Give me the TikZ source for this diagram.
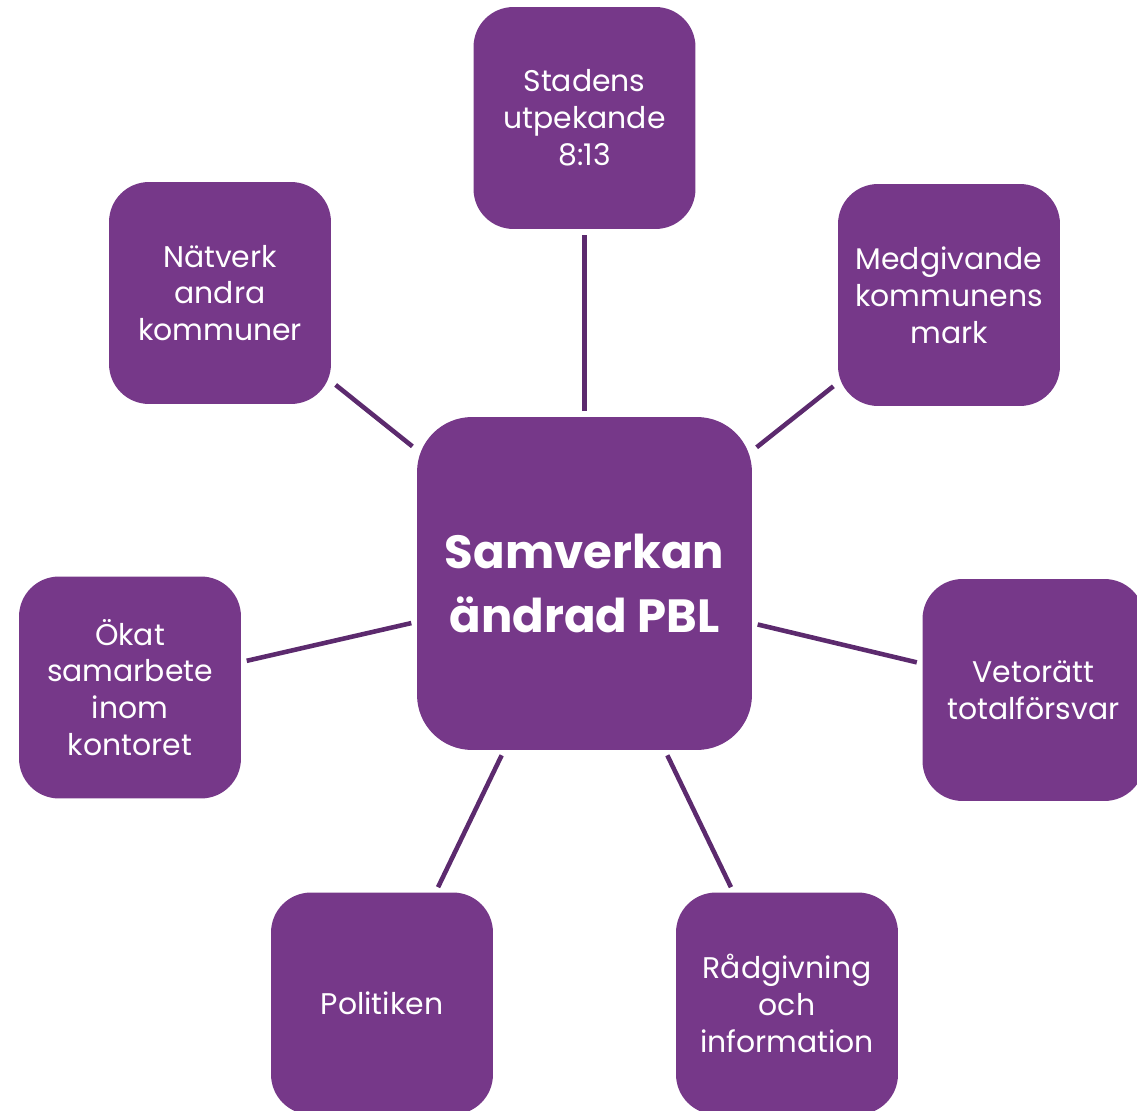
\documentclass[tikz,border=0pt]{standalone}
\usepackage{fontspec}
\setmainfont{Poppins}
\definecolor{pbl-purple}{HTML}{763889}
\definecolor{pbl-line}{HTML}{5C2A6E}
\begin{document}
\begin{tikzpicture}[
  x=0.02cm, y=-0.02cm,
  topic/.style={fill=pbl-purple, text=white, align=center, rounded corners=0.8cm, minimum width=4.44cm, minimum height=4.44cm, inner sep=2pt, font=\fontsize{17}{21}\selectfont},
  hub/.style={topic, rounded corners=1.1cm, minimum width=6.7cm, minimum height=6.66cm, font=\fontsize{26.5}{36}\selectfont\bfseries},
  link/.style={line width=2.6pt, pbl-line, shorten <=0.11cm, shorten >=0.11cm}
]
\useasboundingbox (0,0) rectangle (1137,1111);
\clip (0,0) rectangle (1137,1111);

% Hub
\node[hub] (samverkan) at (584.5,583.5) {Samverkan\\ändrad PBL};

% Topics
\node[topic] (stadens) at (584.5,118) {Stadens\\utpekande\\8:13};
\node[topic] (natverk) at (220,293) {Nätverk\\andra\\kommuner};
\node[topic] (medgivande) at (949,295) {Medgivande\\kommunens\\mark};
\node[topic] (okat) at (130,687.5) {Ökat\\samarbete\\inom\\kontoret};
\node[topic] (veto) at (1033.5,690) {Vetorätt\\totalförsvar};
\node[topic] (politiken) at (382,1003.5) {Politiken};
\node[topic] (radgivning) at (787,1003.5) {Rådgivning\\och\\information};

% Edges
\draw (samverkan) edge[link] (stadens);
\draw (samverkan) edge[link] (natverk);
\draw (samverkan) edge[link] (medgivande);
\draw (samverkan) edge[link] (okat);
\draw (samverkan) edge[link] (veto);
\draw (samverkan) edge[link] (politiken);
\draw (samverkan) edge[link] (radgivning);
\end{tikzpicture}
\end{document}
